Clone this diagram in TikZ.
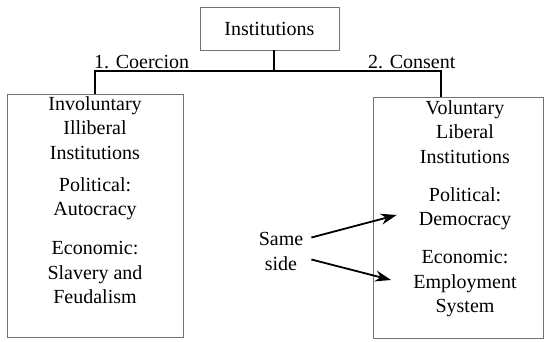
\documentclass[tikz,border=0pt]{standalone}
\usepackage{fontspec}
\setmainfont{Liberation Serif}
\newfontfamily\timesfont{Liberation Serif}
\usetikzlibrary{arrows.meta,calc}
\begin{document}
\begin{tikzpicture}[x=1pt,y=-1pt,
  box/.style={draw=black!55, line width=0.8pt, inner sep=0pt},
  txt/.style={align=center, inner sep=0pt, font=\timesfont\fontsize{20}{24.5}\selectfont},
  conn/.style={line width=1.8pt},
  arr/.style={line width=1.8pt, -{Stealth[length=16pt,width=11pt]}}]
\useasboundingbox (0,0) rectangle (550,341);
% boxes
\node[box, minimum width=139pt, minimum height=43pt] (top) at (269.5,28.5) {};
\node[txt] (toptxt) at (269.5,29) {Institutions};
\node[box, minimum width=176pt, minimum height=243pt] (lbox) at (95,215.5) {};
\node[box, minimum width=170pt, minimum height=241pt] (rbox) at (458,217.5) {};
% tree connectors
\coordinate (j) at (274,71);
\draw[conn] (274,50) -- (j);
\draw[conn] (lbox.north) |- (j);
\draw[conn] (j) -| ([xshift=-17pt]rbox.north);
\node[txt, anchor=base west] (coer) at (94,68) {1. Coercion};
\node[txt, anchor=base west] (cons) at (368,68) {2. Consent};
% left text
\node[txt] (l1) at (95,128) {Involuntary\\Illiberal\\Institutions};
\node[txt] (l2) at (95,198.5) {Political:\\Autocracy};
\node[txt] (l3) at (95,272.5) {Economic:\\Slavery and\\Feudalism};
% right text
\node[txt] (r1) at (465,132) {Voluntary\\Liberal\\Institutions};
\node[txt] (r2) at (465,208.5) {Political:\\Democracy};
\node[txt] (r3) at (465,284) {Economic:\\Employment\\System};
% same side
\node[txt] (ss) at (281,251.5) {Same\\side};
\draw[arr] ([xshift=8pt,yshift=14pt]ss.east) -- ([xshift=-22pt,yshift=-6.5pt]r2.west);
\draw[arr] ([xshift=8pt,yshift=-8pt]ss.east) -- ([xshift=-22pt,yshift=4pt]r3.west);
\end{tikzpicture}
\end{document}
